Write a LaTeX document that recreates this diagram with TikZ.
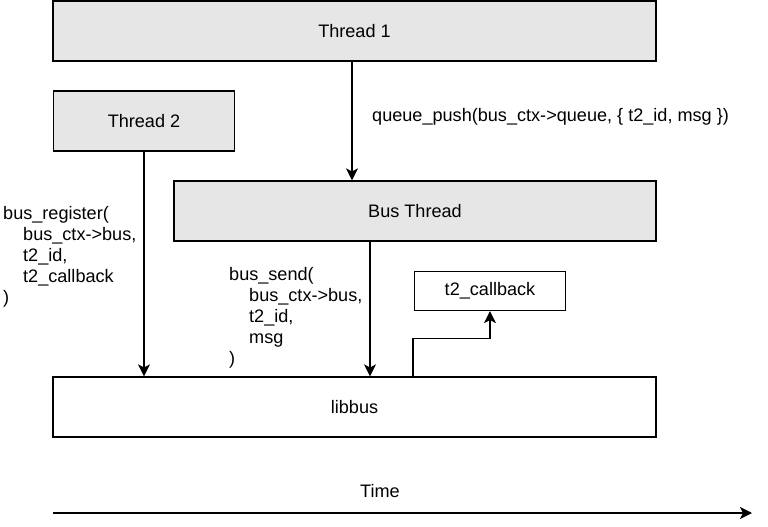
\documentclass[tikz,border=0pt]{standalone}
\usepackage{fontspec}
\setmainfont{Liberation Sans}
\usetikzlibrary{arrows.meta}
\definecolor{boxgray}{HTML}{E6E6E6}
\begin{document}
\begin{tikzpicture}[x=1pt,y=-1pt,
  every node/.style={font=\fontsize{18.1}{21}\selectfont},
  box/.style={draw, line width=1.2pt, inner sep=0pt, align=center},
  gbox/.style={box, fill=boxgray},
  wbox/.style={box, fill=white},
  arr/.style={line width=1.2pt, -{Stealth[length=12pt,width=12pt,inset=3pt]}},
  lbl/.style={anchor=west, align=left, inner sep=0pt}]
\useasboundingbox (0,0) rectangle (768,527);
\node[gbox, minimum width=603pt, minimum height=60pt] (t1) at (354.5,31) {Thread 1};
\node[gbox, minimum width=181pt, minimum height=60pt] (t2) at (144,121) {Thread 2};
\node[gbox, minimum width=482pt, minimum height=60pt] (bt) at (415,211) {Bus Thread};
\node[wbox, minimum width=151pt, minimum height=39pt] (cb) at (490,291) {t2\_callback};
\node[wbox, minimum width=603pt, minimum height=60pt] (lb) at (354.5,407) {libbus};
\coordinate (a1) at ([xshift=-2.5pt]t1.south);
\draw[arr] (a1) -- (a1 |- bt.north);
\draw[arr] (t2.south) -- (t2.south |- lb.north);
\coordinate (a2) at ([xshift=-45pt]bt.south);
\draw[arr] (a2) -- (a2 |- lb.north);
\coordinate (a3) at ([xshift=58.5pt]lb.north);
\draw[arr] (a3) -- ++(0,-38) -| (cb.south);
\node[lbl] (ql) at (372,116.5) {queue\_push(bus\_ctx->queue, \{ t2\_id, msg \})};
\node[lbl] (rl) at (3,257) {bus\_register(\\\hspace*{20pt}bus\_ctx->bus,\\\hspace*{20pt}t2\_id,\\\hspace*{20pt}t2\_callback\\)};
\node[lbl] (sl) at (229,317.5) {bus\_send(\\\hspace*{20pt}bus\_ctx->bus,\\\hspace*{20pt}t2\_id,\\\hspace*{20pt}msg\\)};
\coordinate (ts) at (53,513);
\coordinate (te) at (752,513);
\draw[arr] (ts) -- (te);
\node (tl) at (380,491) {Time};
\end{tikzpicture}
\end{document}
